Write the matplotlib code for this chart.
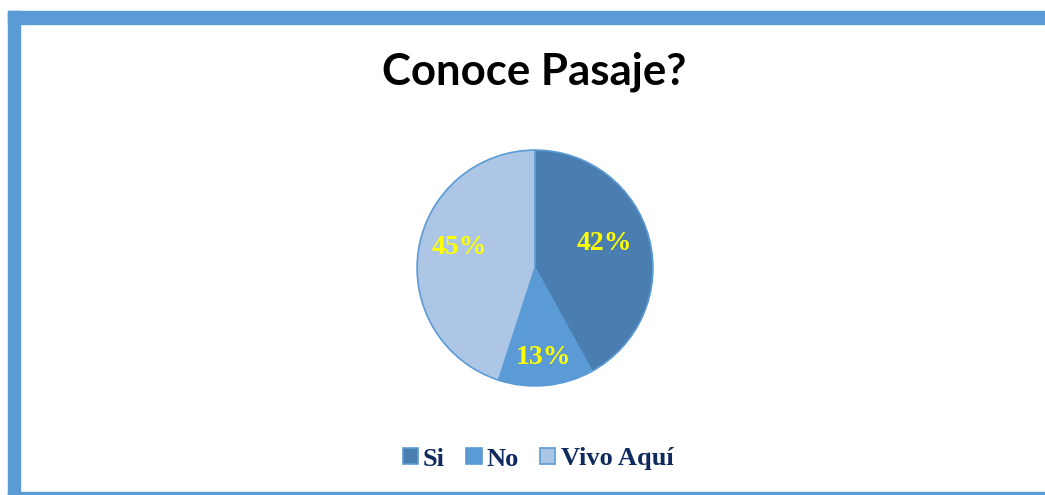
import matplotlib.pyplot as plt
import numpy as np
from matplotlib.patches import Rectangle

# data
labels = ['Si', 'No', 'Vivo Aquí']
values = [42, 13, 45]
colors = ['#4a7eb1', '#5b9bd5', '#adc6e6']
title = 'Conoce Pasaje?'

W, H = 1045, 495
fig = plt.figure(figsize=(W / 100, H / 100), dpi=100)
fig.patch.set_facecolor('white')

# frame bars (top, left, bottom), in pixels
def bar(x0, y0, x1, y1):
    fig.patches.append(Rectangle((x0 / W, 1 - y1 / H), (x1 - x0) / W, (y1 - y0) / H,
                                 transform=fig.transFigure, color='#5b9bd5', zorder=0))

bar(8, 11, W, 24)
bar(8, 11, 20, H)
bar(8, 492, W, H)

fig.text(534 / W, 1 - 72 / H, title, ha='center', va='center',
         fontsize=31.5, fontweight='bold', family='Lato', color='black')

cx, cy, r = 535, 268, 118.5
ax = fig.add_axes([(cx - r) / W, 1 - (cy + r) / H, 2 * r / W, 2 * r / H])
wedges, texts, autotexts = ax.pie(values, colors=colors, startangle=90, counterclock=False,
                                  autopct='%1.0f%%', pctdistance=0.68,
                                  wedgeprops=dict(edgecolor='#5b9bd5', linewidth=1.2))
ax.set_xlim(-1.005, 1.005)
ax.set_ylim(-1.005, 1.005)
ax.axis('off')

# nudge label angles a bit as in the original layout
shift = [5, 0, -6]
rad = [0.62, 0.76, 0.66]
for w, t, s, d in zip(wedges, autotexts, shift, rad):
    ang = np.deg2rad((w.theta1 + w.theta2) / 2 + s)
    t.set_position((d * np.cos(ang), d * np.sin(ang)))
    t.set_color('#ffff00')
    t.set_fontsize(20)
    t.set_fontweight('bold')
    t.set_family('Liberation Serif')

leg = fig.legend(wedges, labels, loc='center', bbox_to_anchor=(538 / W, 1 - 459 / H),
                 ncol=3, frameon=False, handlelength=0.58, handleheight=0.58,
                 handletextpad=0.2, columnspacing=0.8,
                 prop=dict(family='Liberation Serif', weight='bold', size=19))
for txt in leg.get_texts():
    txt.set_color('#0f2a5c')

fig.savefig('out.png', dpi=100)
